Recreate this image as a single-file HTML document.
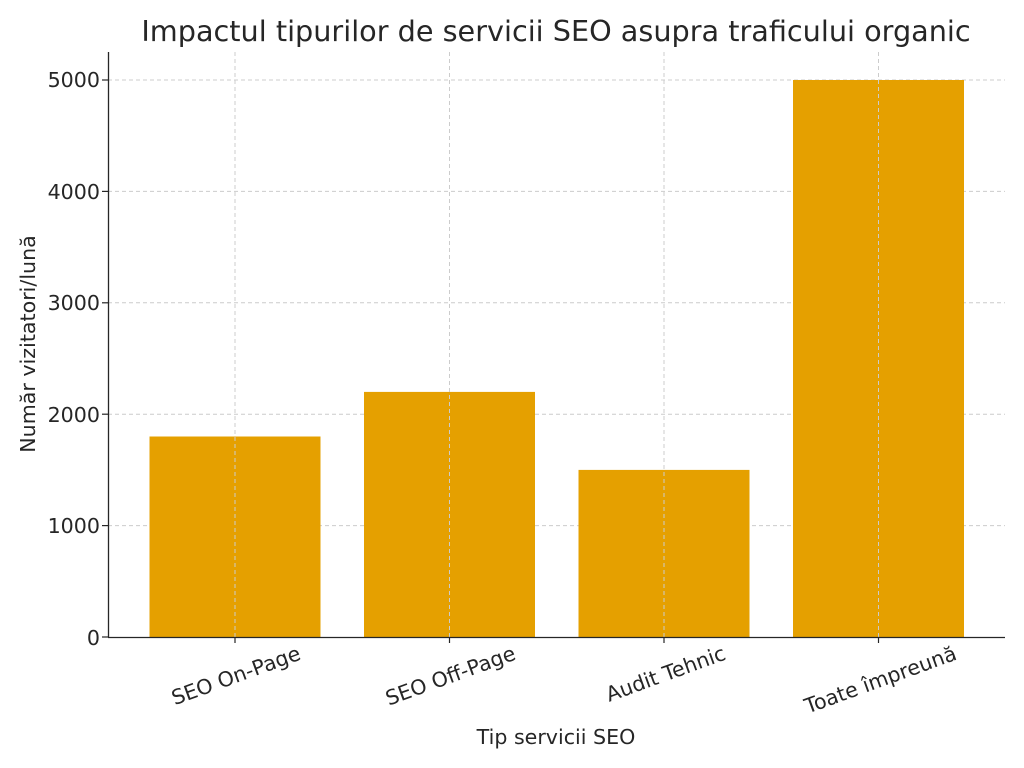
<!DOCTYPE html>
<html><head><meta charset="utf-8"><style>body{margin:0;background:#fff}svg{display:block}text{font-family:"DejaVu Sans","Liberation Sans",sans-serif;fill:#262626}</style></head>
<body>
<svg width="1024" height="768" xmlns="http://www.w3.org/2000/svg">
<rect width="1024" height="768" fill="#fff"/>
<g stroke="#cccccc" stroke-width="1" stroke-dasharray="4,3">
<line x1="108" y1="525.6" x2="1005" y2="525.6"/>
<line x1="108" y1="414.2" x2="1005" y2="414.2"/>
<line x1="108" y1="302.8" x2="1005" y2="302.8"/>
<line x1="108" y1="191.4" x2="1005" y2="191.4"/>
<line x1="108" y1="80" x2="1005" y2="80"/>
</g>
<g fill="#E5A000">
<rect x="149.5" y="436.5" width="171" height="200.5"/>
<rect x="364" y="391.9" width="171" height="245.1"/>
<rect x="578.5" y="469.9" width="171" height="167.1"/>
<rect x="793" y="80" width="171" height="557"/>
</g>
<g stroke="#cccccc" stroke-width="1" stroke-dasharray="4,3">
<line x1="235" y1="52" x2="235" y2="637"/>
<line x1="449.5" y1="52" x2="449.5" y2="637"/>
<line x1="664" y1="52" x2="664" y2="637"/>
<line x1="878.5" y1="52" x2="878.5" y2="637"/>
</g>
<line x1="108.5" y1="52" x2="108.5" y2="637" stroke="#262626" stroke-width="1.3"/>
<line x1="108" y1="637.5" x2="1005" y2="637.5" stroke="#262626" stroke-width="1.3"/>
<g stroke="#262626" stroke-width="1.2">
<line x1="102" y1="637" x2="108" y2="637"/><line x1="102" y1="525.6" x2="108" y2="525.6"/><line x1="102" y1="414.2" x2="108" y2="414.2"/><line x1="102" y1="302.8" x2="108" y2="302.8"/><line x1="102" y1="191.4" x2="108" y2="191.4"/><line x1="102" y1="80" x2="108" y2="80"/>
<line x1="235" y1="637" x2="235" y2="643"/><line x1="449.5" y1="637" x2="449.5" y2="643"/><line x1="664" y1="637" x2="664" y2="643"/><line x1="878.5" y1="637" x2="878.5" y2="643"/>
</g>
<g font-size="20.6" text-anchor="end">
<text x="100" y="645">0</text><text x="100" y="533">1000</text><text x="100" y="422">2000</text><text x="100" y="310">3000</text><text x="100" y="199">4000</text><text x="100" y="87">5000</text>
</g>
<g font-size="20.6" text-anchor="end">
<text transform="translate(302,659) rotate(-20)">SEO On-Page</text>
<text transform="translate(517,659) rotate(-20)">SEO Off-Page</text>
<text transform="translate(727,659) rotate(-20)">Audit Tehnic</text>
<text transform="translate(958,659) rotate(-20)">Toate împreună</text>
</g>
<text x="556" y="744" font-size="20.6" text-anchor="middle">Tip servicii SEO</text>
<text transform="translate(35,344) rotate(-90)" font-size="20.6" text-anchor="middle">Număr vizitatori/lună</text>
<text x="556" y="41" font-size="28.7" text-anchor="middle" fill="#333">Impactul tipurilor de servicii SEO asupra traficului organic</text>
</svg>
</body></html>
